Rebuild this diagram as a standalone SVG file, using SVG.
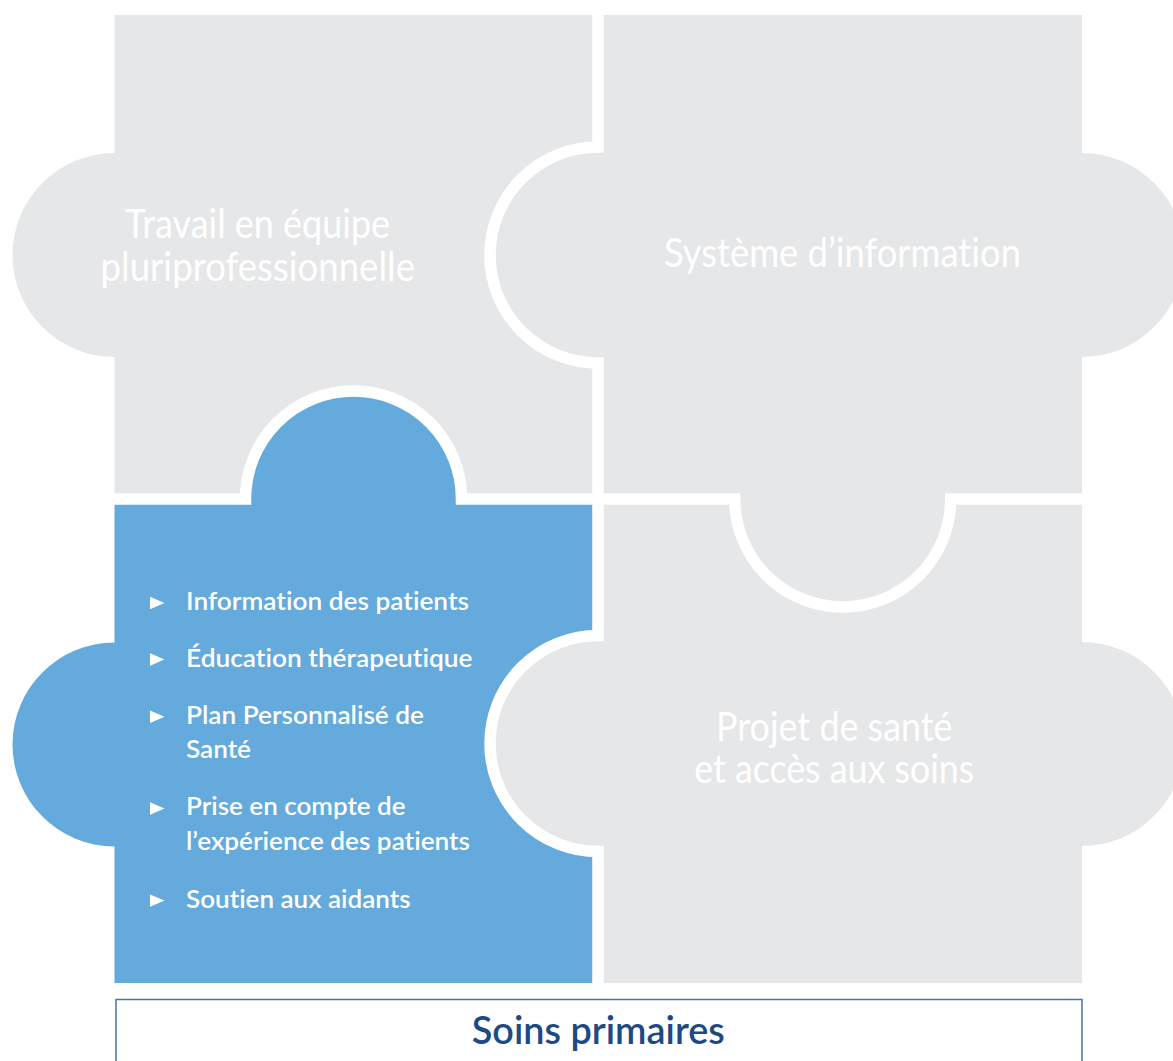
<svg xmlns="http://www.w3.org/2000/svg" width="1173" height="1061" viewBox="0 0 1173 1061">
<style>
text{font-variant-ligatures:none;font-feature-settings:"liga" 0,"dlig" 0}
.grey{fill:#e6e7e9}
.blue{fill:#64aadc}
.seam{fill:none;stroke:#ffffff;stroke-width:11.5;stroke-linejoin:miter}
.title{font-family:Lato,"Open Sans","Liberation Sans",sans-serif;font-size:40px;fill:#ffffff;font-weight:400}
.item{font-family:Lato,"Open Sans","Liberation Sans",sans-serif;font-size:25.5px;fill:#ffffff;font-weight:600}
.base{font-family:Lato,"Open Sans","Liberation Sans",sans-serif;font-size:37.5px;fill:#1d4a85;font-weight:600}
.bullet{fill:#ffffff}
</style>
<defs>
<path id="tri" d="M0 -6.2 L14.5 0 L0 6.2 Z"/>
</defs>
<rect width="1173" height="1061" fill="#ffffff"/>

<g id="piece-travail">
<path class="grey" d="M114.5 15 H598 V147 A108 108 0 0 0 598 363 V499 H461.5 A108 108 0 0 0 245.5 499 H114.5 V357 A102 102 0 0 1 114.5 153 Z"/>
<text class="title" x="125" y="237.7" textLength="265" lengthAdjust="spacingAndGlyphs">Travail en équipe</text>
<text class="title" x="100.5" y="281" textLength="314.5" lengthAdjust="spacingAndGlyphs">pluriprofessionnelle</text>
</g>

<g id="piece-systeme">
<path class="grey" d="M598 15 H1082 V153 A102 102 0 0 1 1082 357 V499 H950.75 A108 108 0 0 1 734.75 499 H598 V363 A108 108 0 0 1 598 147 Z"/>
<text class="title" x="664" y="267.3" textLength="357" lengthAdjust="spacingAndGlyphs">Système d’information</text>
</g>

<g id="piece-patients">
<path class="blue" d="M114.5 499 H245.5 A108 108 0 0 1 461.5 499 H598 V635.5 A108 108 0 0 0 598 851.5 V983 H114.5 V846.5 A102 102 0 0 1 114.5 642.5 Z"/>
<use href="#tri" class="bullet" x="150" y="603"/>
<text class="item" x="186" y="610.3" textLength="283" lengthAdjust="spacingAndGlyphs">Information des patients</text>
<use href="#tri" class="bullet" x="150" y="659.5"/>
<text class="item" x="186" y="666.7" textLength="286.5" lengthAdjust="spacingAndGlyphs">Éducation thérapeutique</text>
<use href="#tri" class="bullet" x="150" y="716.8"/>
<text class="item" x="186" y="724" textLength="238" lengthAdjust="spacingAndGlyphs">Plan Personnalisé de</text>
<text class="item" x="186" y="758.4" textLength="65" lengthAdjust="spacingAndGlyphs">Santé</text>
<use href="#tri" class="bullet" x="150" y="808.5"/>
<text class="item" x="186" y="815" textLength="219.6" lengthAdjust="spacingAndGlyphs">Prise en compte de</text>
<text class="item" x="186" y="850" textLength="284" lengthAdjust="spacingAndGlyphs">l’expérience des patients</text>
<use href="#tri" class="bullet" x="150" y="900.6"/>
<text class="item" x="186" y="907.7" textLength="224.6" lengthAdjust="spacingAndGlyphs">Soutien aux aidants</text>
</g>

<g id="piece-projet">
<path class="grey" d="M598 499 H734.75 A108 108 0 0 0 950.75 499 H1082 V642 A102 102 0 0 1 1082 846 V983 H598 V851.5 A108 108 0 0 1 598 635.5 Z"/>
<text class="title" x="716" y="740.7" textLength="236.5" lengthAdjust="spacingAndGlyphs">Projet de santé</text>
<text class="title" x="694.2" y="782.7" textLength="280" lengthAdjust="spacingAndGlyphs">et accès aux soins</text>
</g>

<g id="connectors">
<path class="seam" d="M598 8 V147 A108 108 0 0 0 598 363 V635.5 A108 108 0 0 0 598 851.5 V990"/>
<path class="seam" d="M106 499 H245.5 A108 108 0 0 1 461.5 499 H734.75 A108 108 0 0 0 950.75 499 H1090"/>
</g>

<g id="soins-primaires">
<rect x="116" y="999.5" width="966" height="90" fill="#ffffff" stroke="#4a74a3" stroke-width="1.5"/>
<text class="base" x="471.8" y="1044" textLength="253" lengthAdjust="spacingAndGlyphs">Soins primaires</text>
</g>
</svg>
